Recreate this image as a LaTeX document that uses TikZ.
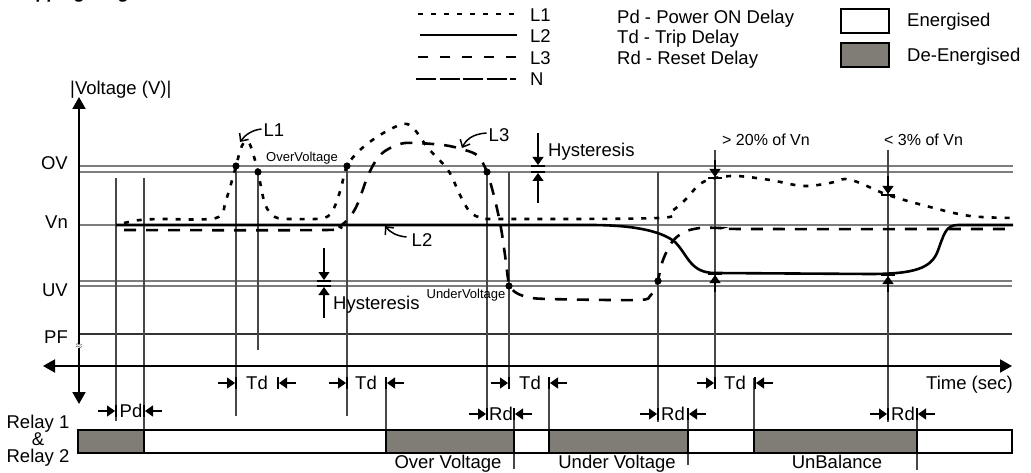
\documentclass[tikz,border=0pt]{standalone}
\usepackage{fontspec}
\setmainfont{Liberation Sans}
\usetikzlibrary{arrows.meta}
\definecolor{relaygray}{RGB}{128,124,118}
\definecolor{gridgray}{RGB}{125,125,125}
\newcommand{\mkL}[2]{\draw[tri] ({#1-18},#2) -- ({#1-1},#2); \draw[line width=2.6pt] (#1,{#2-6}) -- (#1,{#2+6});}
\newcommand{\mkR}[2]{\draw[tri] ({#1+18},#2) -- ({#1+1},#2); \draw[line width=2.6pt] (#1,{#2-6}) -- (#1,{#2+6});}
\newcommand{\arrDn}[3]{\draw[tri] (#1,#2) -- (#1,{#3-1}); \draw[line width=2.6pt] ({#1-7},#3) -- ({#1+7},#3);}
\newcommand{\arrUp}[3]{\draw[tri] (#1,#2) -- (#1,{#3+1}); \draw[line width=2.6pt] ({#1-7},#3) -- ({#1+7},#3);}
\begin{document}
\begin{tikzpicture}[x=1pt,y=-1pt,
  lab/.style={inner sep=0pt, font=\fontsize{18.5}{20}\selectfont, text height=13.2pt, text depth=0pt},
  smalllab/.style={inner sep=0pt, font=\fontsize{13}{15}\selectfont, text height=9.3pt, text depth=0pt},
  midlab/.style={inner sep=0pt, font=\fontsize{16}{18}\selectfont, text height=11.5pt, text depth=0pt},
  grid/.style={gridgray, line width=1.3pt},
  vline/.style={black!72, line width=1.1pt},
  lone/.style={line width=2.6pt, dash pattern=on 5pt off 8pt},
  ltwo/.style={line width=2.6pt},
  lthree/.style={line width=2.6pt, dash pattern=on 12pt off 10pt},
  lthreeleg/.style={line width=2.6pt, dash pattern=on 10pt off 12pt},
  lnull/.style={line width=2.6pt, dash pattern=on 20pt off 3.5pt},
  tri/.style={-{Triangle[length=8pt,width=11pt]}, line width=1.1pt},
  barb/.style={-{Straight Barb[length=6pt,width=11pt]}, line width=1.5pt},
  axis/.style={line width=2pt, {Triangle[length=12pt,width=13pt]}-{Triangle[length=12pt,width=13pt]}},
  relayon/.style={draw, line width=1.3pt, fill=white},
  relayoff/.style={draw, line width=1.3pt, fill=relaygray},
  dot/.style={fill=black}
]
\useasboundingbox (0,0) rectangle (1031,473);
\fill[white] (0,0) rectangle (1031,473);

% partial title (only its descenders fall inside the picture)
\node[anchor=base west, inner sep=0pt, font=\fontsize{18}{20}\selectfont\bfseries\itshape] (title) at (14,-1) {Tripping Diagram};

% legend
\draw[lone] (418,14) -- (517,14);
\draw[ltwo] (420,35) -- (517,35);
\draw[lthreeleg] (418,57) -- (517,57);
\draw[lnull] (416,79) -- (516,79);
\node[lab, anchor=west] (lgL1) at (530,15) {L1};
\node[lab, anchor=west] (lgL2) at (530,36) {L2};
\node[lab, anchor=west] (lgL3) at (530,58) {L3};
\node[lab, anchor=west] (lgN) at (530,79) {N};
\node[lab, anchor=west] (lgPd) at (617,17) {Pd - Power ON Delay};
\node[lab, anchor=west] (lgTd) at (617,37) {Td - Trip Delay};
\node[lab, anchor=west] (lgRd) at (617,58) {Rd - Reset Delay};
\draw[relayon] (841,9) rectangle (889,33);
\draw[relayoff] (841,43) rectangle (889,67);
\node[lab, anchor=west] (lgEn) at (907,20) {Energised};
\node[lab, anchor=west] (lgDe) at (907,55) {De-Energised};

% grid lines
\draw[grid] (79,166) -- (1013,166);
\draw[grid] (79,172) -- (1013,172);
\draw[grid, line width=1.1pt] (79,225) -- (1013,225);
\draw[grid] (79,281) -- (1012,281);
\draw[grid] (79,286) -- (1012,286);
\draw[black!80, line width=1.1pt] (79,334) -- (1012,334);

% level labels
\node[lab, anchor=east] (ov) at (68,163) {OV};
\node[lab, anchor=east] (vn) at (68,222) {Vn};
\node[lab, anchor=east] (uv) at (68,290) {UV};
\node[lab, anchor=east] (pf) at (68,337) {PF};

% vertical lines
\draw[vline] (116,178) -- (116,421);
\draw[vline] (144,178) -- (144,430);
\draw[vline] (236,166) -- (236,416);
\draw[vline] (258,172) -- (258,350);
\draw[vline] (347,166) -- (347,416);
\draw[vline] (386,378) -- (386,430);
\draw[vline] (487,172) -- (487,420);
\draw[vline] (509,172) -- (509,389);
\draw[vline] (514,408) -- (514,469);
\draw[vline] (549,378) -- (549,430);
\draw[vline] (658,172) -- (658,422);
\draw[vline] (688,408) -- (688,465);
\draw[vline] (715,150) -- (715,389);
\draw[vline] (754,378) -- (754,430);
\draw[vline] (888,150) -- (888,422);
\draw[vline] (917,408) -- (917,470);

% axes
\draw[axis] (79,97) -- (79,404);
\draw[axis] (43,366) -- (1012,366);
\node[lab, anchor=west] (ylab) at (70,88) {|Voltage (V)|};
\node[lab, anchor=east] (xlab) at (1013,383) {Time (sec)};
\node[inner sep=0pt, font=\small, fill=white] (brk) at (79,346) {$\approx$};

% curves
\draw[ltwo] (116,225) -- (590,225) .. controls (630,225) and (660,230) .. (675,242)
  .. controls (688,255) and (690,273) .. (715,273) -- (870,274)
  .. controls (915,274) and (930,268) .. (937,253) .. controls (944,235) and (945,225) .. (958,225) -- (1013,225);
\draw[lone] plot[smooth, tension=0.55] coordinates {(124,223) (140,220) (160,219) (216,218) (226,200) (236,166) (241,148) (246,141) (251,147) (258,172) (265,204) (275,217) (292,219) (324,218) (334,208) (341,188) (347,166) (360,150) (380,135) (403,124) (414,129) (428,148) (448,170) (460,195) (470,212) (482,218) (500,219) (658,218) (672,211) (685,200) (700,184) (715,178) (737,176) (770,180) (803,186) (830,183) (845,179) (860,183) (888,195) (930,207) (970,216) (1013,218)};
\draw[lthree] plot[smooth, tension=0.5] coordinates {(124,230) (326,230) (340,226) (350,217) (358,203) (367,178) (375,162) (385,151) (405,143) (443,145) (465,150) (478,156) (487,172) (495,200) (501,228) (505,255) (509,284) (515,292) (527,297) (548,299) (638,300) (650,296) (655,289) (658,280) (663,260) (672,242) (684,232) (700,228) (720,228) (745,229) (1013,229)};

% dots
\foreach \p/\n in {{(236,166)}/d1, {(258,172)}/d2, {(347,166)}/d3, {(487,172)}/d4, {(509,286)}/d5, {(658,281)}/d6}
  \fill[dot] \p circle (3.6pt);

% curve labels
\node[lab] (cL1) at (274,130) {L1};
\node[lab] (cL3) at (499,135) {L3};
\node[lab] (cL2) at (422,240) {L2};
\draw[barb] (cL1.west) ++(-2,-1) .. controls (252,130) and (245,135) .. (240,142);
\draw[barb] (cL3.west) ++(-2,-2) .. controls (472,134) and (466,140) .. (462,148);
\draw[barb] (cL2.west) ++(-5,-3) .. controls (396,236) and (390,232) .. (385,226);
\node[smalllab] (ovtxt) at (302,157) {OverVoltage};
\node[smalllab] (uvtxt) at (466,294) {UnderVoltage};

% hysteresis
\arrDn{538}{133}{166}
\arrUp{538}{203}{172}
\node[lab, anchor=west] (hys1) at (548,150) {Hysteresis};
\arrDn{324}{248}{281}
\arrUp{324}{318}{286}
\node[lab, anchor=west] (hys2) at (333,303) {Hysteresis};

% unbalance markers
\arrDn{715}{160}{178}
\arrUp{715}{292}{274}
\arrDn{888}{176}{195}
\arrUp{888}{292}{275}
\node[midlab, anchor=west] (ub1) at (722,140) {> 20\% of Vn};
\node[midlab, anchor=west] (ub2) at (884,140) {< 3\% of Vn};

% delay markers
\mkL{116}{411} \mkR{144}{411} \node[lab] (pd) at (131,411) {Pd};
\mkL{236}{383} \mkR{278}{383} \node[lab] (td1) at (257,383) {Td};
\mkL{347}{383} \mkR{386}{383} \node[lab] (td2) at (366,383) {Td};
\mkL{509}{383} \mkR{549}{383} \node[lab] (td3) at (530,383) {Td};
\mkL{715}{383} \mkR{755}{383} \node[lab] (td4) at (735,383) {Td};
\mkL{487}{414} \mkR{514}{414} \node[lab] (rd1) at (501,414) {Rd};
\mkL{658}{414} \mkR{688}{414} \node[lab] (rd2) at (673,414) {Rd};
\mkL{888}{414} \mkR{917}{414} \node[lab] (rd3) at (903,414) {Rd};

% relay bar
\draw[relayoff] (78,430) rectangle (144,453);
\draw[relayon] (144,430) rectangle (386,453);
\draw[relayoff] (386,430) rectangle (514,453);
\draw[relayon] (514,430) rectangle (549,453);
\draw[relayoff] (549,430) rectangle (688,453);
\draw[relayon] (688,430) rectangle (754,453);
\draw[relayoff] (754,430) rectangle (917,453);
\draw[relayon] (917,430) rectangle (1012,453);
\node[inner sep=0pt, align=center, font=\fontsize{18.5}{17}\selectfont] (relay) at (38,441) {Relay 1\\\&\\Relay 2};
\node[lab] (ovl) at (448,462) {Over Voltage};
\node[lab] (uvl) at (617,462) {Under Voltage};
\node[lab] (ubl) at (837,462) {UnBalance};
\end{tikzpicture}
\end{document}
